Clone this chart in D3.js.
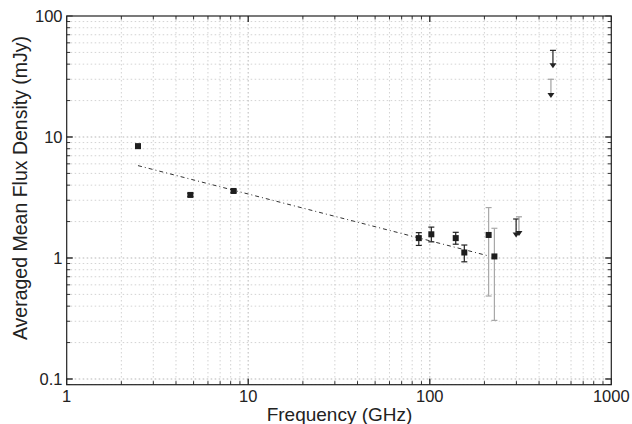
<!DOCTYPE html>
<html><head><meta charset="utf-8">
<script src="https://cdn.jsdelivr.net/npm/d3@7/dist/d3.min.js"></script>
<style>body{margin:0;background:#fff;} text{font-family:"Liberation Sans",Arial,sans-serif;fill:#222;}</style>
</head><body><svg id="c" width="632" height="424"></svg>
<script>
// Detections
const freq   = [2.47, 4.8, 8.3, 87, 102, 139, 155, 211, 227];
const flux   = [8.4, 3.32, 3.58, 1.46, 1.57, 1.46, 1.11, 1.55, 1.03];
const errLo  = [8.1, 3.22, 3.47, 1.27, 1.36, 1.30, 0.93, 0.485, 0.305];
const errHi  = [8.7, 3.42, 3.69, 1.62, 1.80, 1.63, 1.28, 2.61, 1.76];
const errGray = [false, false, false, false, false, false, false, true, true];
// Upper limits
const ulFreq = [299, 310, 477, 465];
const ulTop  = [2.1, 2.19, 52, 30];
const ulTip  = [1.48, 1.52, 37, 21];
const ulGray = [false, true, false, true];
// Power-law fit endpoints
const fitFreq = [2.47, 211];
const fitFlux = [5.8, 1.04];
// Ticks
const xTicks = [1, 10, 100, 1000];
const yTicks = [0.1, 1, 10, 100];

const svg = d3.select("#c");
const L = 66.7, R = 611.3, T = 16, B = 384.7;
const x = d3.scaleLog().domain([1, 1000]).range([L, R]);
const y = d3.scaleLog().domain([0.0897, 100]).range([B, T]);

const minorX = [], minorY = [];
for (let d = 1; d < 1000; d *= 10) for (let k = 1; k <= 10; k++) minorX.push(d * k);
for (let d = 0.01; d < 100; d *= 10) for (let k = 1; k <= 10; k++) { const v = +(d * k).toPrecision(3); if (v >= 0.0897 && v <= 100) minorY.push(v); }

const g = svg.append("g");
// grid
g.selectAll(".gx").data(minorX.filter(v => v > 1 && v < 1000)).enter().append("line")
  .attr("x1", d => x(d)).attr("x2", d => x(d)).attr("y1", T).attr("y2", B)
  .attr("stroke", "#c8c8c8").attr("stroke-width", 0.8).attr("stroke-dasharray", "1.5,2.5");
g.selectAll(".gy").data(minorY.filter(v => v < 100)).enter().append("line")
  .attr("x1", L).attr("x2", R).attr("y1", d => y(d)).attr("y2", d => y(d))
  .attr("stroke", "#c8c8c8").attr("stroke-width", 0.8).attr("stroke-dasharray", "1.5,2.5");

// ticks inward on all sides
const isMajor = v => Math.abs(Math.log10(v) - Math.round(Math.log10(v))) < 1e-6;
minorX.forEach(v => {
  const len = isMajor(v) ? 6 : 3.5;
  g.append("line").attr("x1", x(v)).attr("x2", x(v)).attr("y1", B).attr("y2", B - len).attr("stroke", "#333").attr("stroke-width", 1);
  g.append("line").attr("x1", x(v)).attr("x2", x(v)).attr("y1", T).attr("y2", T + len).attr("stroke", "#333").attr("stroke-width", 1);
});
minorY.forEach(v => {
  const len = isMajor(v) ? 6 : 3.5;
  g.append("line").attr("x1", L).attr("x2", L + len).attr("y1", y(v)).attr("y2", y(v)).attr("stroke", "#333").attr("stroke-width", 1);
  g.append("line").attr("x1", R).attr("x2", R - len).attr("y1", y(v)).attr("y2", y(v)).attr("stroke", "#333").attr("stroke-width", 1);
});
// box
g.append("rect").attr("x", L).attr("y", T).attr("width", R - L).attr("height", B - T)
  .attr("fill", "none").attr("stroke", "#222").attr("stroke-width", 1.2);

// tick labels
g.selectAll(".xl").data(xTicks).enter().append("text")
  .attr("x", d => x(d)).attr("y", 402).attr("text-anchor", "middle").attr("font-size", 16.5).text(d => d);
g.selectAll(".yl").data(yTicks).enter().append("text")
  .attr("x", 62.5).attr("y", d => y(d) + 6).attr("text-anchor", "end").attr("font-size", 16.5).text(d => d);
// axis titles
svg.append("text").attr("x", 339.5).attr("y", 421).attr("text-anchor", "middle").attr("font-size", 19).text("Frequency (GHz)");
svg.append("text").attr("transform", `translate(27,188) rotate(-90)`).attr("text-anchor", "middle").attr("font-size", 19.5).text("Averaged Mean Flux Density (mJy)");

// fit line
g.append("path").attr("d", d3.line().x(d => x(d[0])).y(d => y(d[1]))(fitFreq.map((f, i) => [f, fitFlux[i]])))
  .attr("fill", "none").attr("stroke", "#333").attr("stroke-width", 1).attr("stroke-dasharray", "4,3,1,3");

// error bars
freq.forEach((f, i) => {
  const c = errGray[i] ? "#a8a8a8" : "#222";
  const cx = x(f);
  g.append("line").attr("x1", cx).attr("x2", cx).attr("y1", y(errLo[i])).attr("y2", y(errHi[i])).attr("stroke", c).attr("stroke-width", 1.2);
  [errLo[i], errHi[i]].forEach(v => g.append("line").attr("x1", cx - 3).attr("x2", cx + 3).attr("y1", y(v)).attr("y2", y(v)).attr("stroke", c).attr("stroke-width", 1.2));
});
// markers
g.selectAll(".pt").data(freq).enter().append("rect")
  .attr("x", d => x(d) - 3).attr("y", (d, i) => y(flux[i]) - 3).attr("width", 6).attr("height", 6).attr("fill", "#1e1e1e");

// upper limits
ulFreq.forEach((f, i) => {
  const c = ulGray[i] ? "#a0a0a0" : "#222";
  const cx = x(f), yt = y(ulTop[i]), yp = y(ulTip[i]);
  g.append("line").attr("x1", cx).attr("x2", cx).attr("y1", yt).attr("y2", yp - 4).attr("stroke", c).attr("stroke-width", 1.2);
  g.append("line").attr("x1", cx - 3).attr("x2", cx + 3).attr("y1", yt).attr("y2", yt).attr("stroke", c).attr("stroke-width", 1.2);
  g.append("path").attr("d", `M${cx - 3.5},${yp - 5}L${cx + 3.5},${yp - 5}L${cx},${yp}Z`).attr("fill", "#222");
});
</script></body></html>
